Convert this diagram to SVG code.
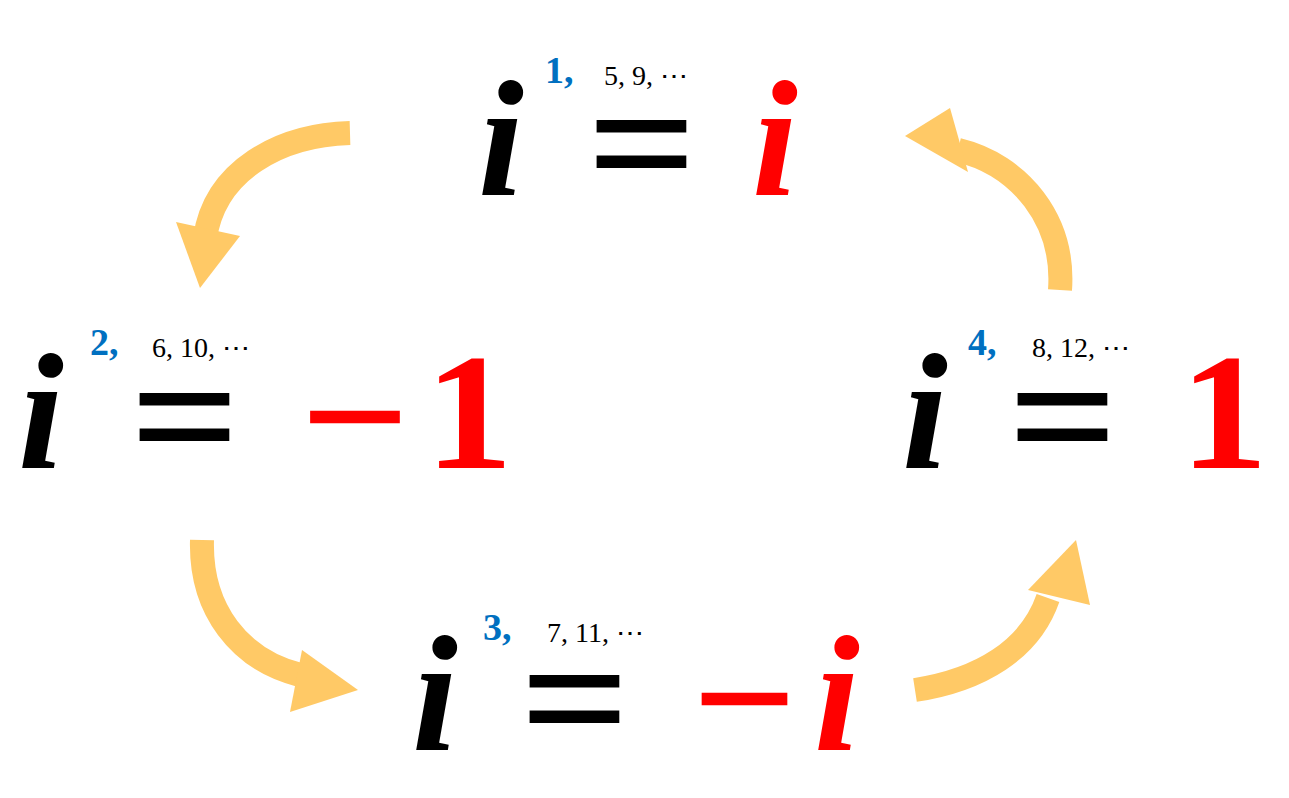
<svg xmlns="http://www.w3.org/2000/svg" width="1289" height="798" viewBox="0 0 1289 798">
<style>
.b{font-family:"Liberation Serif",serif;font-weight:bold;fill:#000}
.big{font-size:165px}
.eq{font-size:178px}
.it{font-style:italic}
.r{fill:#f00}
.sup{font-family:"Liberation Serif",serif;font-weight:bold;font-size:38px;fill:#0070c0}
.sm{font-family:"Liberation Serif",serif;font-size:28px;fill:#000}
.arc{fill:none;stroke:#ffc966;stroke-width:24}
.hd{fill:#ffc966}
</style>
<rect width="1289" height="798" fill="#fff"/>
<g id="connectors">
<path class="arc" d="M350,133 C280,135 215,170 205,238"/>
<polygon class="hd" points="176,222 240,236 200,288"/>
<path class="arc" d="M202,540 C200,610 240,660 300,675"/>
<polygon class="hd" points="302,650 358,690 290,712"/>
<path class="arc" d="M915,690 C980,680 1030,650 1048,598"/>
<polygon class="hd" points="1028,590 1090,605 1076,540"/>
<path class="arc" d="M1060,290 C1065,220 1020,165 958,150"/>
<polygon class="hd" points="950,108 905,136 968,172"/>
</g>
<g id="n1">
<text class="b big it" x="478" y="195">i</text>
<text class="b eq" x="587" y="203" textLength="110" lengthAdjust="spacingAndGlyphs">=</text>
<text class="b big it r" x="752" y="195">i</text>
<text class="sup" x="545" y="83">1,</text>
<text class="sm" x="604" y="85">5, 9, ⋯</text>
</g>
<g id="n2">
<text class="b big it" x="18" y="468">i</text>
<text class="b eq" x="130" y="476" textLength="110" lengthAdjust="spacingAndGlyphs">=</text>
<text class="b eq r" x="300" y="476" textLength="110" lengthAdjust="spacingAndGlyphs">−</text>
<text class="b big r" x="425" y="468" textLength="88" lengthAdjust="spacingAndGlyphs">1</text>
<text class="sup" x="90" y="355">2,</text>
<text class="sm" x="152" y="357">6, 10, ⋯</text>
</g>
<g id="n3">
<text class="b big it" x="412" y="750">i</text>
<text class="b eq" x="520" y="758" textLength="110" lengthAdjust="spacingAndGlyphs">=</text>
<text class="b eq r" x="692" y="758" textLength="105" lengthAdjust="spacingAndGlyphs">−</text>
<text class="b big it r" x="814" y="750">i</text>
<text class="sup" x="483" y="640">3,</text>
<text class="sm" x="547" y="642">7, 11, ⋯</text>
</g>
<g id="n4">
<text class="b big it" x="902" y="468">i</text>
<text class="b eq" x="1008" y="476" textLength="110" lengthAdjust="spacingAndGlyphs">=</text>
<text class="b big r" x="1180" y="468" textLength="88" lengthAdjust="spacingAndGlyphs">1</text>
<text class="sup" x="968" y="355">4,</text>
<text class="sm" x="1032" y="357">8, 12, ⋯</text>
</g>
</svg>
